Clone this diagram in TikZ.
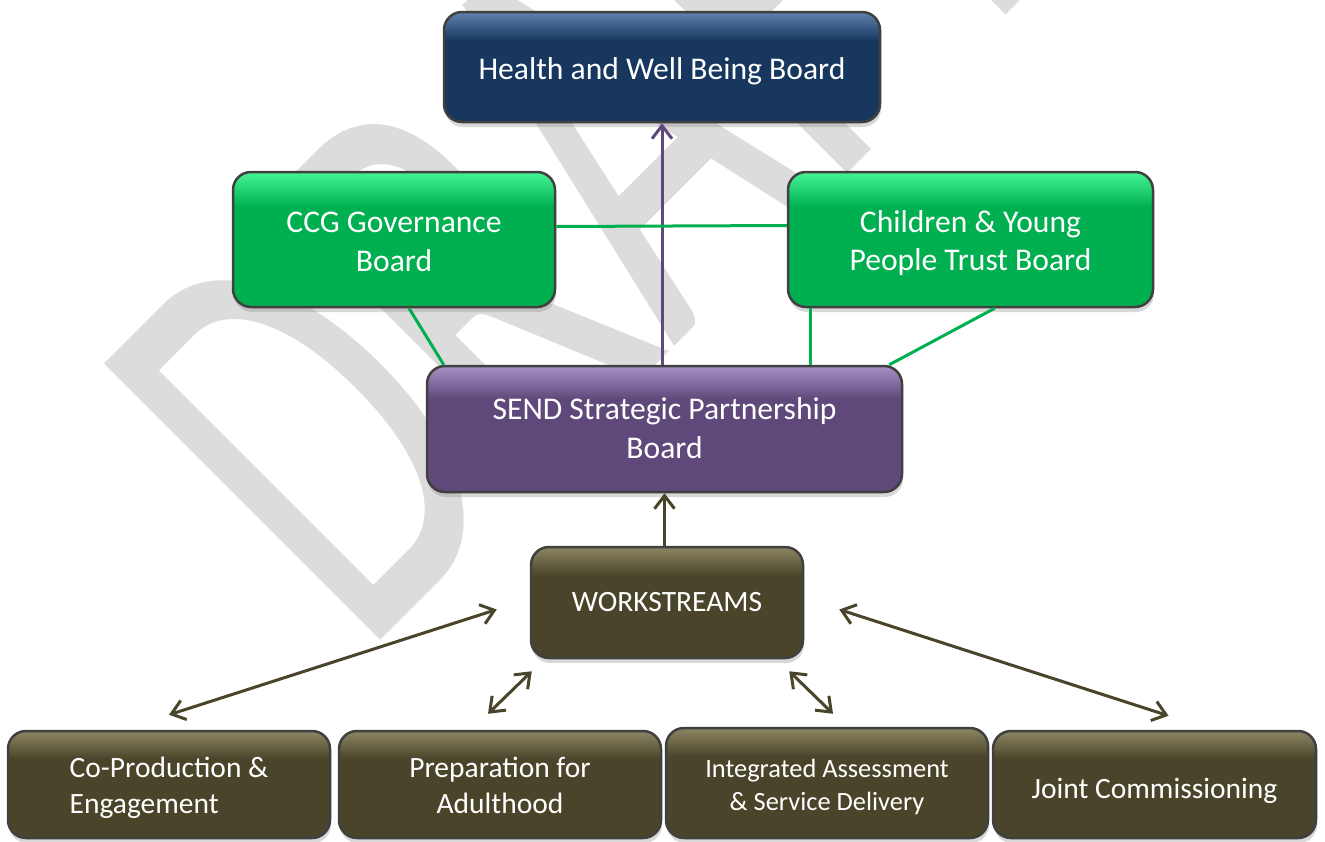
\documentclass[tikz,border=0pt]{standalone}
\usepackage{fontspec}
\setmainfont{Carlito}
\usetikzlibrary{arrows.meta,shadows}
\definecolor{navy}{HTML}{17375E}
\definecolor{navytop}{HTML}{5F82B0}
\definecolor{grn}{HTML}{00B050}
\definecolor{grntop}{HTML}{45F595}
\definecolor{purp}{HTML}{5F497A}
\definecolor{purptop}{HTML}{A891C6}
\definecolor{olive}{HTML}{4A452A}
\definecolor{olivetop}{HTML}{8C8663}
\definecolor{rim}{HTML}{404040}
\definecolor{wm}{HTML}{DCDCDC}
\pgfdeclareverticalshading{navysh}{100bp}{color(0bp)=(navy); color(25bp)=(navy); color(62bp)=(navy); color(75bp)=(navytop); color(100bp)=(navytop)}
\pgfdeclareverticalshading{grnsh}{100bp}{color(0bp)=(grn); color(25bp)=(grn); color(62bp)=(grn); color(75bp)=(grntop); color(100bp)=(grntop)}
\pgfdeclareverticalshading{purpsh}{100bp}{color(0bp)=(purp); color(25bp)=(purp); color(62bp)=(purp); color(75bp)=(purptop); color(100bp)=(purptop)}
\pgfdeclareverticalshading{olivesh}{100bp}{color(0bp)=(olive); color(25bp)=(olive); color(62bp)=(olive); color(75bp)=(olivetop); color(100bp)=(olivetop)}
\begin{document}
\begin{tikzpicture}[x=1pt,y=-1pt,
  box/.style={draw=rim, line width=2.5pt, rounded corners=18pt, text=white, align=center, inner sep=0pt,
    text depth=0pt,
    drop shadow={shadow xshift=1pt,shadow yshift=-5pt,opacity=0.3},
    font=\fontsize{31.6}{38.5}\selectfont},
  navybox/.style={box, shade, shading=navysh},
  grnbox/.style={box, shade, shading=grnsh},
  purpbox/.style={box, shade, shading=purpsh},
  olivebox/.style={box, shade, shading=olivesh, font=\fontsize{29.5}{36}\selectfont},
  purpline/.style={draw=purp, line width=3pt, -{Straight Barb[length=13pt,width=20pt]}},
  grnline/.style={draw=grn, line width=3pt},
  oliveup/.style={draw=olive, line width=3pt, -{Straight Barb[length=13pt,width=20pt]}},
  olivetwo/.style={draw=olive, line width=3pt, {Straight Barb[length=13pt,width=20pt]}-{Straight Barb[length=13pt,width=20pt]}}
]
\useasboundingbox[fill=white] (0,0) rectangle (1325,841);

% watermark
\node[rotate=45, xscale=3.8, yscale=6.09, anchor=base west, inner sep=0pt, text=wm] (wmark) at (362,659)
  {\fontsize{100}{100}\selectfont DRAFT};

% boxes
\node[navybox, minimum width=436pt, minimum height=110pt, text height=24.6pt] (hwb) at (662,67) {Health and Well Being Board};
\node[grnbox, minimum width=322pt, minimum height=135pt, text height=63pt] (ccg) at (394,239.5) {CCG Governance\\Board};
\node[grnbox, minimum width=365pt, minimum height=135pt, text height=62pt] (cyp) at (970.5,239.5) {Children \& Young\\People Trust Board};
\node[purpbox, minimum width=475pt, minimum height=126pt, text height=58.6pt] (send) at (664.5,429) {SEND Strategic Partnership\\Board};
\node[olivebox, minimum width=272pt, minimum height=111pt, text height=18.4pt] (ws) at (667,602.5) {WORKSTREAMS};
\node[olivebox, minimum width=322pt, minimum height=107pt, align=left, text height=57.6pt] (b1) at (169,784.5) {Co-Production \&\\Engagement};
\node[olivebox, minimum width=322pt, minimum height=107pt, text height=57pt] (b2) at (500,784.5) {Preparation for\\Adulthood};
\node[olivebox, minimum width=322pt, minimum height=110pt, text height=55pt, font=\fontsize{26.4}{33}\selectfont] (b3) at (827,783) {Integrated Assessment\\\& Service Delivery};
\node[olivebox, minimum width=323pt, minimum height=107pt, text height=27.6pt] (b4) at (1154.5,784.5) {Joint Commissioning};

% connectors
\draw[purpline] (send.north -| hwb.south) -- (hwb.south);
\draw[grnline] ([yshift=13pt]ccg.east) -- ([yshift=14pt]cyp.west);
\draw[grnline] ([xshift=15pt]ccg.south) -- ([xshift=18pt]send.north west);
\draw[grnline] ([xshift=24pt]cyp.south west) -- ([xshift=24pt]cyp.south west |- send.north);
\draw[grnline] ([xshift=208pt]cyp.south west) -- ([xshift=-14pt]send.north east);
\draw[oliveup] (ws.north -| send.south) -- (send.south);
\draw[olivetwo] ([yshift=15pt]b1.north) -- ([xshift=-33pt,yshift=-7pt]ws.west);
\draw[olivetwo] ([xshift=-12pt,yshift=16pt]b2.north) -- ([xshift=2pt,yshift=-12pt]ws.south west);
\draw[olivetwo] ([xshift=6pt,yshift=13pt]b3.north) -- ([xshift=-15pt,yshift=-12pt]ws.south east);
\draw[olivetwo] ([xshift=14pt,yshift=14pt]b4.north) -- ([xshift=35pt,yshift=-7pt]ws.east);
\end{tikzpicture}
\end{document}
